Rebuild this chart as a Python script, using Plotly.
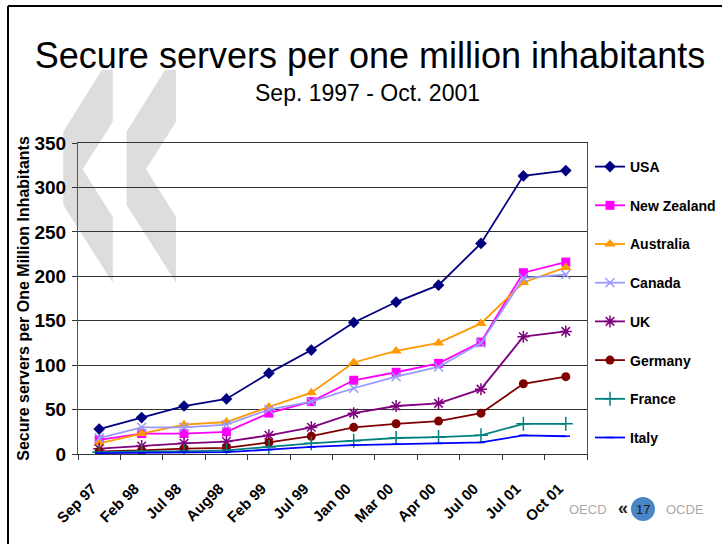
import plotly.graph_objects as go

categories = ["Sep 97", "Feb 98", "Jul 98", "Aug98", "Feb 99", "Jul 99",
              "Jan 00", "Mar 00", "Apr 00", "Jul 00", "Jul 01", "Oct 01"]

usa = [28, 41, 54, 62, 91, 117, 148, 171, 190, 237, 313, 319]
new_zealand = [16, 23, 23, 25, 46, 59, 83, 92, 102, 126, 204, 216]
australia = [12, 23, 33, 36, 53, 69, 103, 116, 125, 147, 193, 210]
canada = [18, 30, 30, 33, 50, 59, 74, 87, 98, 125, 198, 202]
uk = [6, 9, 12, 14, 21, 30, 46, 54, 57, 73, 132, 138]
germany = [3, 4, 6, 7, 13, 20, 30, 34, 37, 46, 79, 87]
france = [2, 3, 3, 4, 8, 12, 15, 18, 19, 21, 34, 34]
italy = [1, 1.5, 2, 2, 5, 8, 10, 11, 12, 13, 21, 20]

series = [
    ("USA", usa, "#000080", "diamond", 9),
    ("New Zealand", new_zealand, "#FF00FF", "square", 9),
    ("Australia", australia, "#FF9900", "triangle-up", 10),
    ("Canada", canada, "#9999FF", "x-thin", 9),
    ("UK", uk, "#800080", "asterisk", 10),
    ("Germany", germany, "#800000", "circle", 9),
    ("France", france, "#008080", "cross-thin", 10),
    ("Italy", italy, "#0000FF", "line-ew", 6),
]

W, H = 722, 544
ML, MR, MT, MB = 78, 135, 143, 90
PW, PH = W - ML - MR, H - MT - MB


def px(x):
    return (x - ML) / PW


def py(y):
    return (H - MB - y) / PH


FONT = "Liberation Sans, Arial, sans-serif"

fig = go.Figure()
for i, (name, vals, color, sym, size) in enumerate(series):
    fig.add_trace(go.Scatter(
        x=categories, y=vals, name=name, mode="lines+markers",
        legendgroup=f"g{i}",
        line=dict(color=color, width=1.8),
        marker=dict(symbol=sym, size=size, color=color,
                    line=dict(color=color, width=1.5 if "thin" in sym or sym in ("asterisk", "line-ew") else 0)),
    ))

# watermark chevrons (decorative)
shapes = []
base = [(101.7, 70), (112.7, 70), (112.7, 121.7), (82.7, 169.3), (112.7, 216.7),
        (112.7, 282.7), (63.3, 205), (63.3, 131.7)]
for off in (0, 63.3):
    pts = [(px(x + off), py(y)) for x, y in base]
    path = "M " + " L ".join(f"{a:.4f},{b:.4f}" for a, b in pts) + " Z"
    shapes.append(dict(type="path", xref="paper", yref="paper", path=path,
                       fillcolor="#DDDDDD", line=dict(width=0), layer="below"))

# slide frame
shapes.append(dict(type="line", xref="paper", yref="paper", x0=px(8), x1=px(722), y0=py(6), y1=py(6),
                   line=dict(color="black", width=2)))
shapes.append(dict(type="line", xref="paper", yref="paper", x0=px(8), x1=px(8), y0=py(6), y1=py(544),
                   line=dict(color="black", width=2)))
# logo circle
shapes.append(dict(type="circle", xref="paper", yref="paper", x0=px(631), x1=px(655), y0=py(497), y1=py(521),
                   fillcolor="#4A86C5", line=dict(width=0)))

annotations = [
    dict(text="Sep. 1997 - Oct. 2001", x=px(367), y=py(93), xref="paper", yref="paper",
         showarrow=False, xanchor="center", yanchor="middle", font=dict(size=23, color="black", family=FONT)),
    dict(text="OECD", x=px(588), y=py(509), xref="paper", yref="paper", showarrow=False,
         xanchor="center", yanchor="middle", font=dict(size=13, color="#AAAAAA", family=FONT)),
    dict(text="<b>«</b>", x=px(623), y=py(508), xref="paper", yref="paper", showarrow=False,
         xanchor="center", yanchor="middle", font=dict(size=18, color="#222222", family=FONT)),
    dict(text="17", x=px(643), y=py(509), xref="paper", yref="paper", showarrow=False,
         xanchor="center", yanchor="middle", font=dict(size=13, color="#1A1A1A", family=FONT)),
    dict(text="OCDE", x=px(685), y=py(509), xref="paper", yref="paper", showarrow=False,
         xanchor="center", yanchor="middle", font=dict(size=13, color="#AAAAAA", family=FONT)),
]

fig.update_layout(
    width=W, height=H,
    margin=dict(l=ML, r=MR, t=MT, b=MB, autoexpand=False),
    paper_bgcolor="white", plot_bgcolor="rgba(0,0,0,0)",
    font=dict(family=FONT, color="black"),
    title=dict(text="Secure servers per one million inhabitants", x=370 / W, y=(H - 55) / H,
               xanchor="center", yanchor="middle", font=dict(size=36, color="black", family=FONT)),
    shapes=shapes, annotations=annotations,
    showlegend=True,
    legend=dict(x=px(590), y=py(151), xanchor="left", yanchor="top",
                font=dict(size=14, family=FONT, color="black", weight="bold"),
                tracegroupgap=17.5, bgcolor="rgba(0,0,0,0)", itemwidth=30),
)

fig.update_xaxes(
    type="category", range=[-0.5, len(categories) - 0.5],
    tickson="boundaries", ticks="outside", ticklen=5, tickcolor="#333333",
    showline=True, linecolor="#333333", linewidth=1, mirror=True, showgrid=False,
    tickangle=-45, ticklabelstandoff=19, ticklabelshift=-7, automargin=False,
    tickfont=dict(size=15, family=FONT, color="black", weight="bold"),
)
fig.update_yaxes(
    range=[0, 350], dtick=50, ticks="outside", ticklen=5, tickcolor="#333333",
    showline=True, linecolor="#555555", linewidth=1, mirror=True,
    showgrid=True, gridcolor="#333333", gridwidth=1, zeroline=False,
    ticklabelstandoff=2, automargin=False,
    tickfont=dict(size=19, family=FONT, color="black", weight="bold"),
    title=dict(text="Secure servers per One Million Inhabitants",
               font=dict(size=16, family=FONT, color="black", weight="bold"), standoff=0),
)

fig.write_html("out.html", config={"displayModeBar": False},
               post_script="document.body.style.margin='0';")
